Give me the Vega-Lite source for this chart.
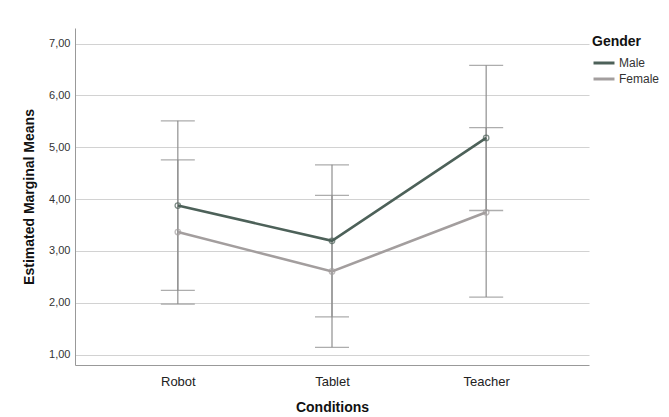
{
  "$schema": "https://vega.github.io/schema/vega-lite/v6.json",
  "width": 514,
  "height": 337,
  "padding": {"left": 22, "top": 28, "right": 5, "bottom": 5},
  "background": "white",
  "data": {
    "values": [
      {"condition": "Robot", "gender": "Male", "mean": 3.875, "lower": 2.24, "upper": 5.51},
      {"condition": "Robot", "gender": "Female", "mean": 3.365, "lower": 1.975, "upper": 4.755},
      {"condition": "Tablet", "gender": "Male", "mean": 3.195, "lower": 1.73, "upper": 4.66},
      {"condition": "Tablet", "gender": "Female", "mean": 2.605, "lower": 1.14, "upper": 4.07},
      {"condition": "Teacher", "gender": "Male", "mean": 5.18, "lower": 3.78, "upper": 6.58},
      {"condition": "Teacher", "gender": "Female", "mean": 3.745, "lower": 2.11, "upper": 5.38}
    ]
  },
  "encoding": {
    "x": {
      "field": "condition",
      "type": "nominal",
      "sort": ["Robot", "Tablet", "Teacher"],
      "scale": {"type": "point", "padding": 0.667},
      "axis": {
        "title": "Conditions",
        "labelAngle": 0,
        "labelFont": "Liberation Sans",
        "labelFontSize": 13,
        "labelColor": "#222",
        "labelPadding": 10,
        "titleFont": "Liberation Sans",
        "titleFontSize": 14,
        "titleFontWeight": "bold",
        "titleColor": "#111",
        "titlePadding": 12,
        "ticks": false,
        "domainColor": "#999",
        "grid": false
      }
    }
  },
  "layer": [
    {
      "mark": {"type": "rule", "color": "#8f8f8f", "strokeWidth": 1.2},
      "encoding": {
        "y": {
          "field": "lower",
          "type": "quantitative",
          "scale": {"domain": [0.8, 7.3], "nice": false, "zero": false},
          "axis": {
            "title": "Estimated Marginal Means",
            "values": [1, 2, 3, 4, 5, 6, 7],
            "labelExpr": "replace(format(datum.value, '.2f'), '.', ',')",
            "labelFont": "Liberation Sans",
            "labelFontSize": 11,
            "labelColor": "#333",
            "labelPadding": 5,
            "titleFont": "Liberation Sans",
            "titleFontSize": 14,
            "titleFontWeight": "bold",
            "titleColor": "#111",
            "titlePadding": 12,
            "ticks": false,
            "domainColor": "#999",
            "grid": true,
            "gridColor": "#d2d2d2",
            "gridWidth": 1.2
          }
        },
        "y2": {"field": "upper"}
      }
    },
    {
      "mark": {"type": "tick", "color": "#8a8a8a", "size": 34, "thickness": 1.3},
      "encoding": {"y": {"field": "lower", "type": "quantitative"}}
    },
    {
      "mark": {"type": "tick", "color": "#8a8a8a", "size": 34, "thickness": 1.3},
      "encoding": {"y": {"field": "upper", "type": "quantitative"}}
    },
    {
      "mark": {"type": "line", "strokeWidth": 2.6},
      "encoding": {
        "y": {"field": "mean", "type": "quantitative"},
        "color": {
          "field": "gender",
          "type": "nominal",
          "sort": ["Male", "Female"],
          "scale": {"domain": ["Male", "Female"], "range": ["#4d6159", "#a39e9e"]},
          "legend": {
            "title": "Gender",
            "titleFont": "Liberation Sans",
            "titleFontSize": 14,
            "titleFontWeight": "bold",
            "titleColor": "#111",
            "titlePadding": 6,
            "labelFont": "Liberation Sans",
            "labelFontSize": 12,
            "labelColor": "#333",
            "symbolType": "stroke",
            "symbolStrokeWidth": 3,
            "symbolSize": 440,
            "clipHeight": 16,
            "padding": 7,
            "offset": -4,
            "rowPadding": 0,
            "labelOffset": 3
          }
        }
      }
    },
    {
      "mark": {"type": "point", "filled": false, "size": 30, "strokeWidth": 1.3},
      "encoding": {
        "y": {"field": "mean", "type": "quantitative"},
        "color": {"field": "gender", "type": "nominal", "sort": ["Male", "Female"], "legend": null}
      }
    }
  ],
  "config": {
    "view": {"stroke": null}
  }
}
